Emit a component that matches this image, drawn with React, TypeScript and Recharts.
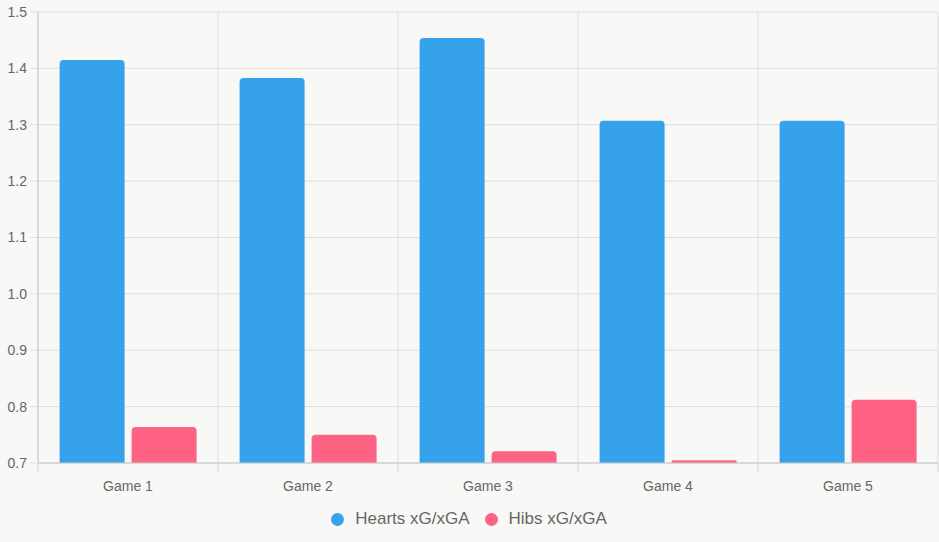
import {
  BarChart,
  Bar,
  XAxis,
  YAxis,
  CartesianGrid,
  Legend,
} from "recharts";

const games = ["Game 1", "Game 2", "Game 3", "Game 4", "Game 5"];
const heartsXg = [1.415, 1.383, 1.454, 1.307, 1.307];
const hibsXg = [0.764, 0.75, 0.721, 0.705, 0.812];
const yTicks = [0.7, 0.8, 0.9, 1.0, 1.1, 1.2, 1.3, 1.4, 1.5];
const boundaryTicks = [0, 1, 2, 3, 4, 5];

const seriesInfo = [
  { key: "hearts", name: "Hearts xG/xGA", color: "#36a2eb" },
  { key: "hibs", name: "Hibs xG/xGA", color: "#ff6384" },
];

const data = games.map((game, i) => ({
  game,
  pos: i + 0.5,
  hearts: heartsXg[i],
  hibs: hibsXg[i],
}));

const FONT = 'Arial, "Liberation Sans", Helvetica, sans-serif';
const TEXT = "#666666";
const GRID = "#dddddd";
const AXIS = "#c8c8c8";

function ChartLegend() {
  return (
    <div
      style={{
        height: 49,
        boxSizing: "border-box",
        paddingTop: 3,
        display: "flex",
        justifyContent: "center",
        alignItems: "center",
        fontFamily: FONT,
        fontSize: 17,
        color: TEXT,
      }}
    >
      {seriesInfo.map((s, i) => (
        <div
          key={s.key}
          style={{
            display: "flex",
            alignItems: "center",
            marginLeft: i === 0 ? 0 : 15,
          }}
        >
          <span
            style={{
              display: "inline-block",
              width: 13,
              height: 13,
              borderRadius: "50%",
              background: s.color,
              marginRight: 11,
            }}
          />
          <span>{s.name}</span>
        </div>
      ))}
    </div>
  );
}

export default function App() {
  return (
    <div
      style={{
        position: "absolute",
        left: 0,
        top: 0,
        width: 939,
        height: 542,
        background: "#f8f8f6",
      }}
    >
      <BarChart
        width={939}
        height={542}
        data={data}
        margin={{ top: 12, right: 1, left: 0, bottom: 0 }}
        barCategoryGap="12%"
        barGap={7}
      >
        <CartesianGrid xAxisId="a-bounds" stroke={GRID} />
        <XAxis
          xAxisId="a-bounds"
          type="number"
          dataKey="pos"
          domain={[0, 5]}
          ticks={boundaryTicks}
          interval={0}
          allowDataOverflow
          height={1}
          tickSize={9}
          tickLine={{ stroke: "#d4d4d4" }}
          axisLine={{ stroke: AXIS }}
          tick={{ fill: "none", fontSize: 1 }}
          tickFormatter={() => " "}
        />
        <XAxis
          xAxisId="b-games"
          dataKey="game"
          height={29}
          axisLine={false}
          tickLine={false}
          tickSize={8}
          tickMargin={9}
          tick={{ fill: TEXT, fontSize: 14, fontFamily: FONT }}
        />
        <YAxis
          domain={[0.7, 1.5]}
          ticks={yTicks}
          allowDataOverflow
          width={38}
          tickSize={8}
          tickMargin={3}
          tickLine={{ stroke: GRID }}
          axisLine={{ stroke: AXIS }}
          tick={{ fill: TEXT, fontSize: 14, fontFamily: FONT }}
          tickFormatter={(v: number) => v.toFixed(1)}
        />
        <Legend verticalAlign="bottom" content={<ChartLegend />} />
        {seriesInfo.map((s) => (
          <Bar
            key={s.key}
            xAxisId="b-games"
            dataKey={s.key}
            name={s.name}
            fill={s.color}
            radius={[4, 4, 0, 0]}
            isAnimationActive={false}
          />
        ))}
      </BarChart>
    </div>
  );
}
